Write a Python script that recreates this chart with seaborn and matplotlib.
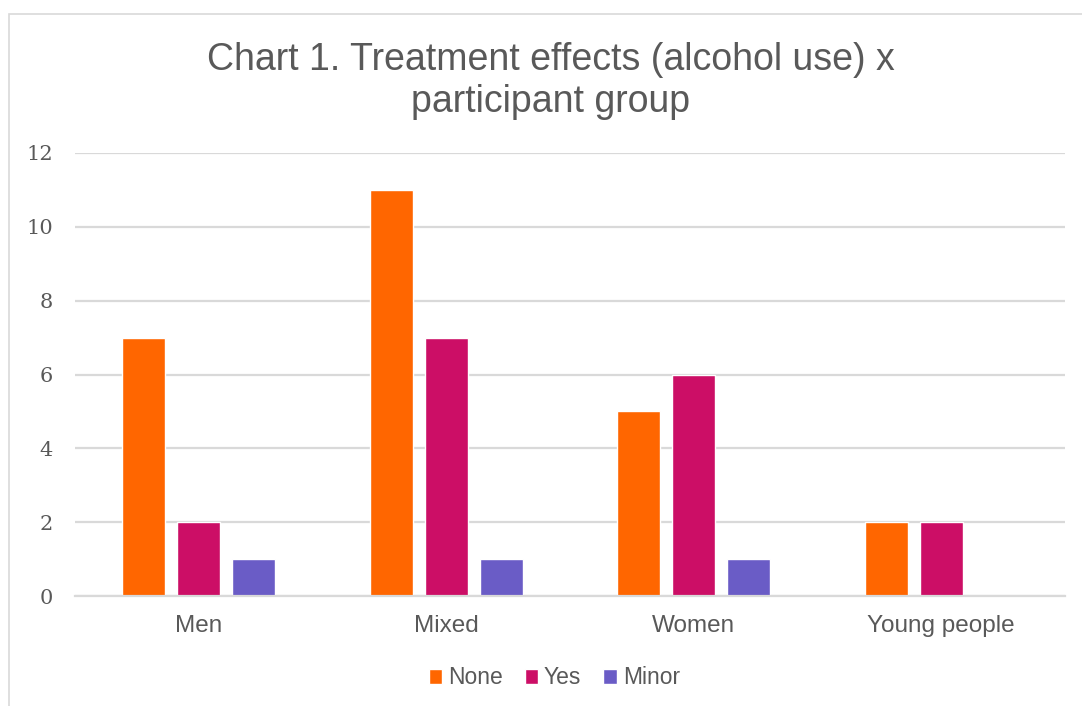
import matplotlib
matplotlib.use('Agg')
import matplotlib.pyplot as plt
import seaborn as sns
import pandas as pd
from matplotlib.patches import Rectangle

# data
groups = ['Men', 'Mixed', 'Women', 'Young people']
effects = ['None', 'Yes', 'Minor']
none_vals = [7, 11, 5, 2]
yes_vals = [2, 7, 6, 2]
minor_vals = [1, 1, 1, 0]

colors = ['#FF6600', '#CC0E66', '#6A5CC6']
TEXT = '#595959'
GRID = '#D9D9D9'

df = pd.DataFrame({
    'group': groups * 3,
    'effect': [e for e in effects for _ in groups],
    'count': none_vals + yes_vals + minor_vals,
})

sns.set_theme(style='white')
plt.rcParams['font.family'] = ['Liberation Sans', 'DejaVu Sans']

fig = plt.figure(figsize=(10.82, 7.06), dpi=100)
ax = fig.add_axes([75 / 1082, 1 - 596 / 706, 990 / 1082, 443 / 706])

sns.barplot(data=df, x='group', y='count', hue='effect', palette=colors,
            width=0.667, gap=0.22, saturation=1, ax=ax, legend=True)

ax.set_ylim(0, 12)
ax.set_yticks(range(0, 13, 2))
ax.set_xlim(-0.5, 3.5)
ax.yaxis.grid(True, color=GRID, linewidth=1.6)
ax.set_axisbelow(True)
for s in ['top', 'right', 'left']:
    ax.spines[s].set_visible(False)
ax.spines['bottom'].set_color(GRID)
ax.spines['bottom'].set_linewidth(1.6)
ax.set_xlabel('')
ax.set_ylabel('')
ax.tick_params(axis='both', length=0)
ax.tick_params(axis='x', pad=14, labelsize=17.5, labelcolor=TEXT)
ax.tick_params(axis='y', pad=16, labelcolor=TEXT)
for lab in ax.get_yticklabels():
    lab.set_fontfamily('DejaVu Serif')
    lab.set_fontsize(15)

fig.suptitle('Chart 1. Treatment effects (alcohol use) x\nparticipant group',
             x=551 / 1082, y=1 - 42 / 706, fontsize=27, color=TEXT,
             va='top', linespacing=1.23)

handles, labels = ax.get_legend_handles_labels()
ax.legend(handles, labels, loc='center', bbox_to_anchor=(0.484, -0.185),
          ncol=3, frameon=False, fontsize=16.5, labelcolor=TEXT,
          handlelength=0.6, handleheight=0.6, handletextpad=0.25,
          columnspacing=0.95)

# chart area border (cut off at the right and bottom in the reference)
fig.patches.append(Rectangle((9 / 1082, -0.1), 1.2, 1 - 14 / 706 + 0.1,
                             transform=fig.transFigure, fill=False,
                             edgecolor='#D9D9D9', linewidth=1.2))

fig.savefig('out.png', dpi=100)
